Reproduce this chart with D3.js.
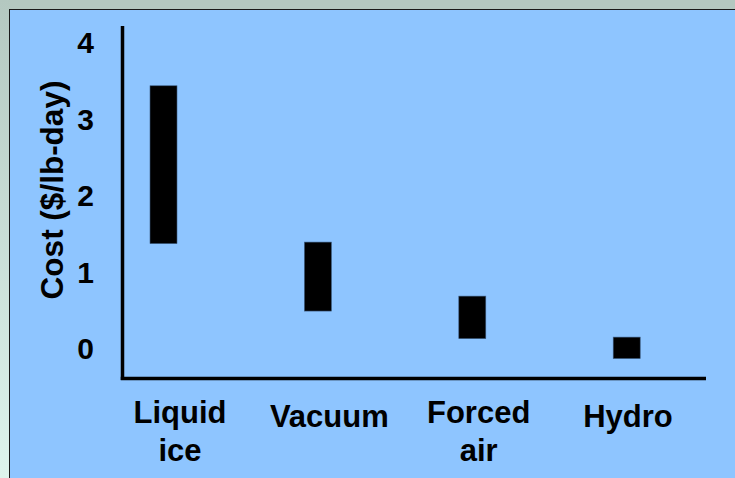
<!DOCTYPE html>
<html>
<head>
<meta charset="utf-8">
<script src="https://cdn.jsdelivr.net/npm/d3@7"></script>
<style>
  html, body { margin: 0; padding: 0; background: #b4c8c0; }
  svg { display: block; }
  text { font-family: "Liberation Sans", Arial, sans-serif; font-weight: bold; fill: #000; }
</style>
</head>
<body>
<svg id="chart" width="735" height="478"></svg>
<script>
// ---- data ----
const categories = ["Liquid ice", "Vacuum", "Forced air", "Hydro"];
const labelLines = [["Liquid", "ice"], ["Vacuum"], ["Forced", "air"], ["Hydro"]];
const lowCost  = [1.37, 0.49, 0.13, -0.13];
const highCost = [3.43, 1.39, 0.685, 0.15];
const yTicks = [0, 1, 2, 3, 4];
const yTitle = "Cost ($/lb-day)";

// ---- layout ----
const W = 735, H = 478;
const svg = d3.select("#chart");

// frame
const defs = svg.append("defs");
const g1 = defs.append("linearGradient").attr("id", "leftStrip")
  .attr("x1", 0).attr("y1", 0).attr("x2", 0).attr("y2", 1);
g1.append("stop").attr("offset", "0%").attr("stop-color", "#b4c8c0");
g1.append("stop").attr("offset", "100%").attr("stop-color", "#def4ed");

svg.append("rect").attr("x", 0).attr("y", 0).attr("width", W).attr("height", H).attr("fill", "#b4c8c0");
svg.append("rect").attr("x", 0).attr("y", 0).attr("width", 10).attr("height", H).attr("fill", "url(#leftStrip)");
svg.append("rect").attr("x", 9.5).attr("y", 9.5).attr("width", W).attr("height", H)
  .attr("fill", "#8ec5ff").attr("stroke", "#1a1a1a").attr("stroke-width", 1);

// scales
const axisX = 122.5, axisTop = 26, axisBottom = 378.5, axisRight = 706;
const y = d3.scaleLinear().domain([-0.39, 4.21]).range([axisBottom, axisTop]);
const x = d3.scalePoint().domain(categories).range([163.5, 626.7]);
const xLabel = d3.scalePoint().domain(categories).range([180, 628]);
const barW = 27;

const data = categories.map((c, i) => ({ c, lo: lowCost[i], hi: highCost[i], lines: labelLines[i] }));

// bars
svg.append("g").selectAll("rect").data(data).join("rect")
  .attr("x", d => x(d.c) - barW / 2)
  .attr("width", barW)
  .attr("y", d => y(d.hi))
  .attr("height", d => y(d.lo) - y(d.hi))
  .attr("fill", "#000")
  .attr("stroke", "#3d5c80")
  .attr("stroke-width", 0.6);

// axes lines
svg.append("line").attr("x1", axisX).attr("x2", axisX).attr("y1", axisTop).attr("y2", axisBottom + 1.5)
  .attr("stroke", "#000").attr("stroke-width", 3.5);
svg.append("line").attr("x1", axisX - 1.75).attr("x2", axisRight).attr("y1", axisBottom).attr("y2", axisBottom)
  .attr("stroke", "#000").attr("stroke-width", 3.5);

// y tick labels
svg.append("g").selectAll("text").data(yTicks).join("text")
  .attr("x", 94)
  .attr("y", d => y(d))
  .attr("dy", "0.36em")
  .attr("text-anchor", "end")
  .attr("font-size", 30)
  .text(d => d);

// y title
svg.append("text")
  .attr("transform", "translate(62.5,190) rotate(-90)")
  .attr("text-anchor", "middle")
  .attr("font-size", 31.5)
  .text(yTitle);

// category labels
const lab = svg.append("g").selectAll("text").data(data).join("text")
  .attr("text-anchor", "middle")
  .attr("font-size", 31)
  .attr("x", d => xLabel(d.c))
  .attr("y", d => d.lines.length > 1 ? 422.5 : 427);
lab.selectAll("tspan").data(d => d.lines.map(t => ({ t, cx: xLabel(d.c) }))).join("tspan")
  .attr("x", d => d.cx)
  .attr("dy", (d, i) => i === 0 ? 0 : 38)
  .text(d => d.t);
</script>
</body>
</html>
